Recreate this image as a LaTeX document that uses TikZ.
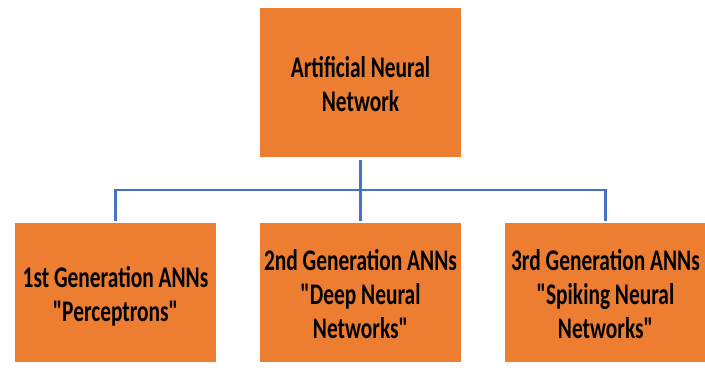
\documentclass[tikz,border=0pt]{standalone}
\usepackage{fontspec}
\setmainfont{Carlito}[Ligatures=TeXOff]
\usepackage{graphicx}
\definecolor{annorange}{HTML}{ED7D31}
\definecolor{annblue}{HTML}{4472C4}
% tall, narrow lines of text as in the slide, set a little low
\newcommand{\tallrows}[1]{\scalebox{1}[1.4]{\raisebox{-3.5pt}[\height][\depth]{\begin{tabular}{@{}c@{}}#1\end{tabular}}}}

\begin{document}
\begin{tikzpicture}[x=1pt,y=-1pt]
\tikzstyle{every node}+=[inner sep=0pt]
\tikzstyle{annbox}=[fill=annorange, minimum width=201pt, font=\fontsize{21.4}{24.2}\selectfont\bfseries]
\tikzstyle{link}=[draw=annblue, line width=2.2pt]
\useasboundingbox (0,0) rectangle (705,372);
% root
\node [annbox, minimum height=149pt] (ann) at (360.5,82.5) {\tallrows{Artificial Neural\\Network}};
% the three generations
\node [annbox, minimum height=139pt] (gen1) at (115.5,292.5) {\tallrows{1st Generation ANNs\\"Perceptrons"}};
\node [annbox, minimum height=139pt] (gen2) at (360.5,292.5) {\tallrows{2nd Generation ANNs\\"Deep Neural\\Networks"}};
\node [annbox, minimum height=139pt] (gen3) at (605.5,292.5) {\tallrows{3rd Generation ANNs\\"Spiking Neural\\Networks"}};
% tree lines
\coordinate (fork) at (360.5,190);
\draw [link, shorten <=3pt, shorten >=2pt] (ann.south) -- (gen2.north);
\draw [link, shorten <=2pt, shorten >=2pt] (gen1.north) |- (fork) -| (gen3.north);
\end{tikzpicture}
\end{document}
